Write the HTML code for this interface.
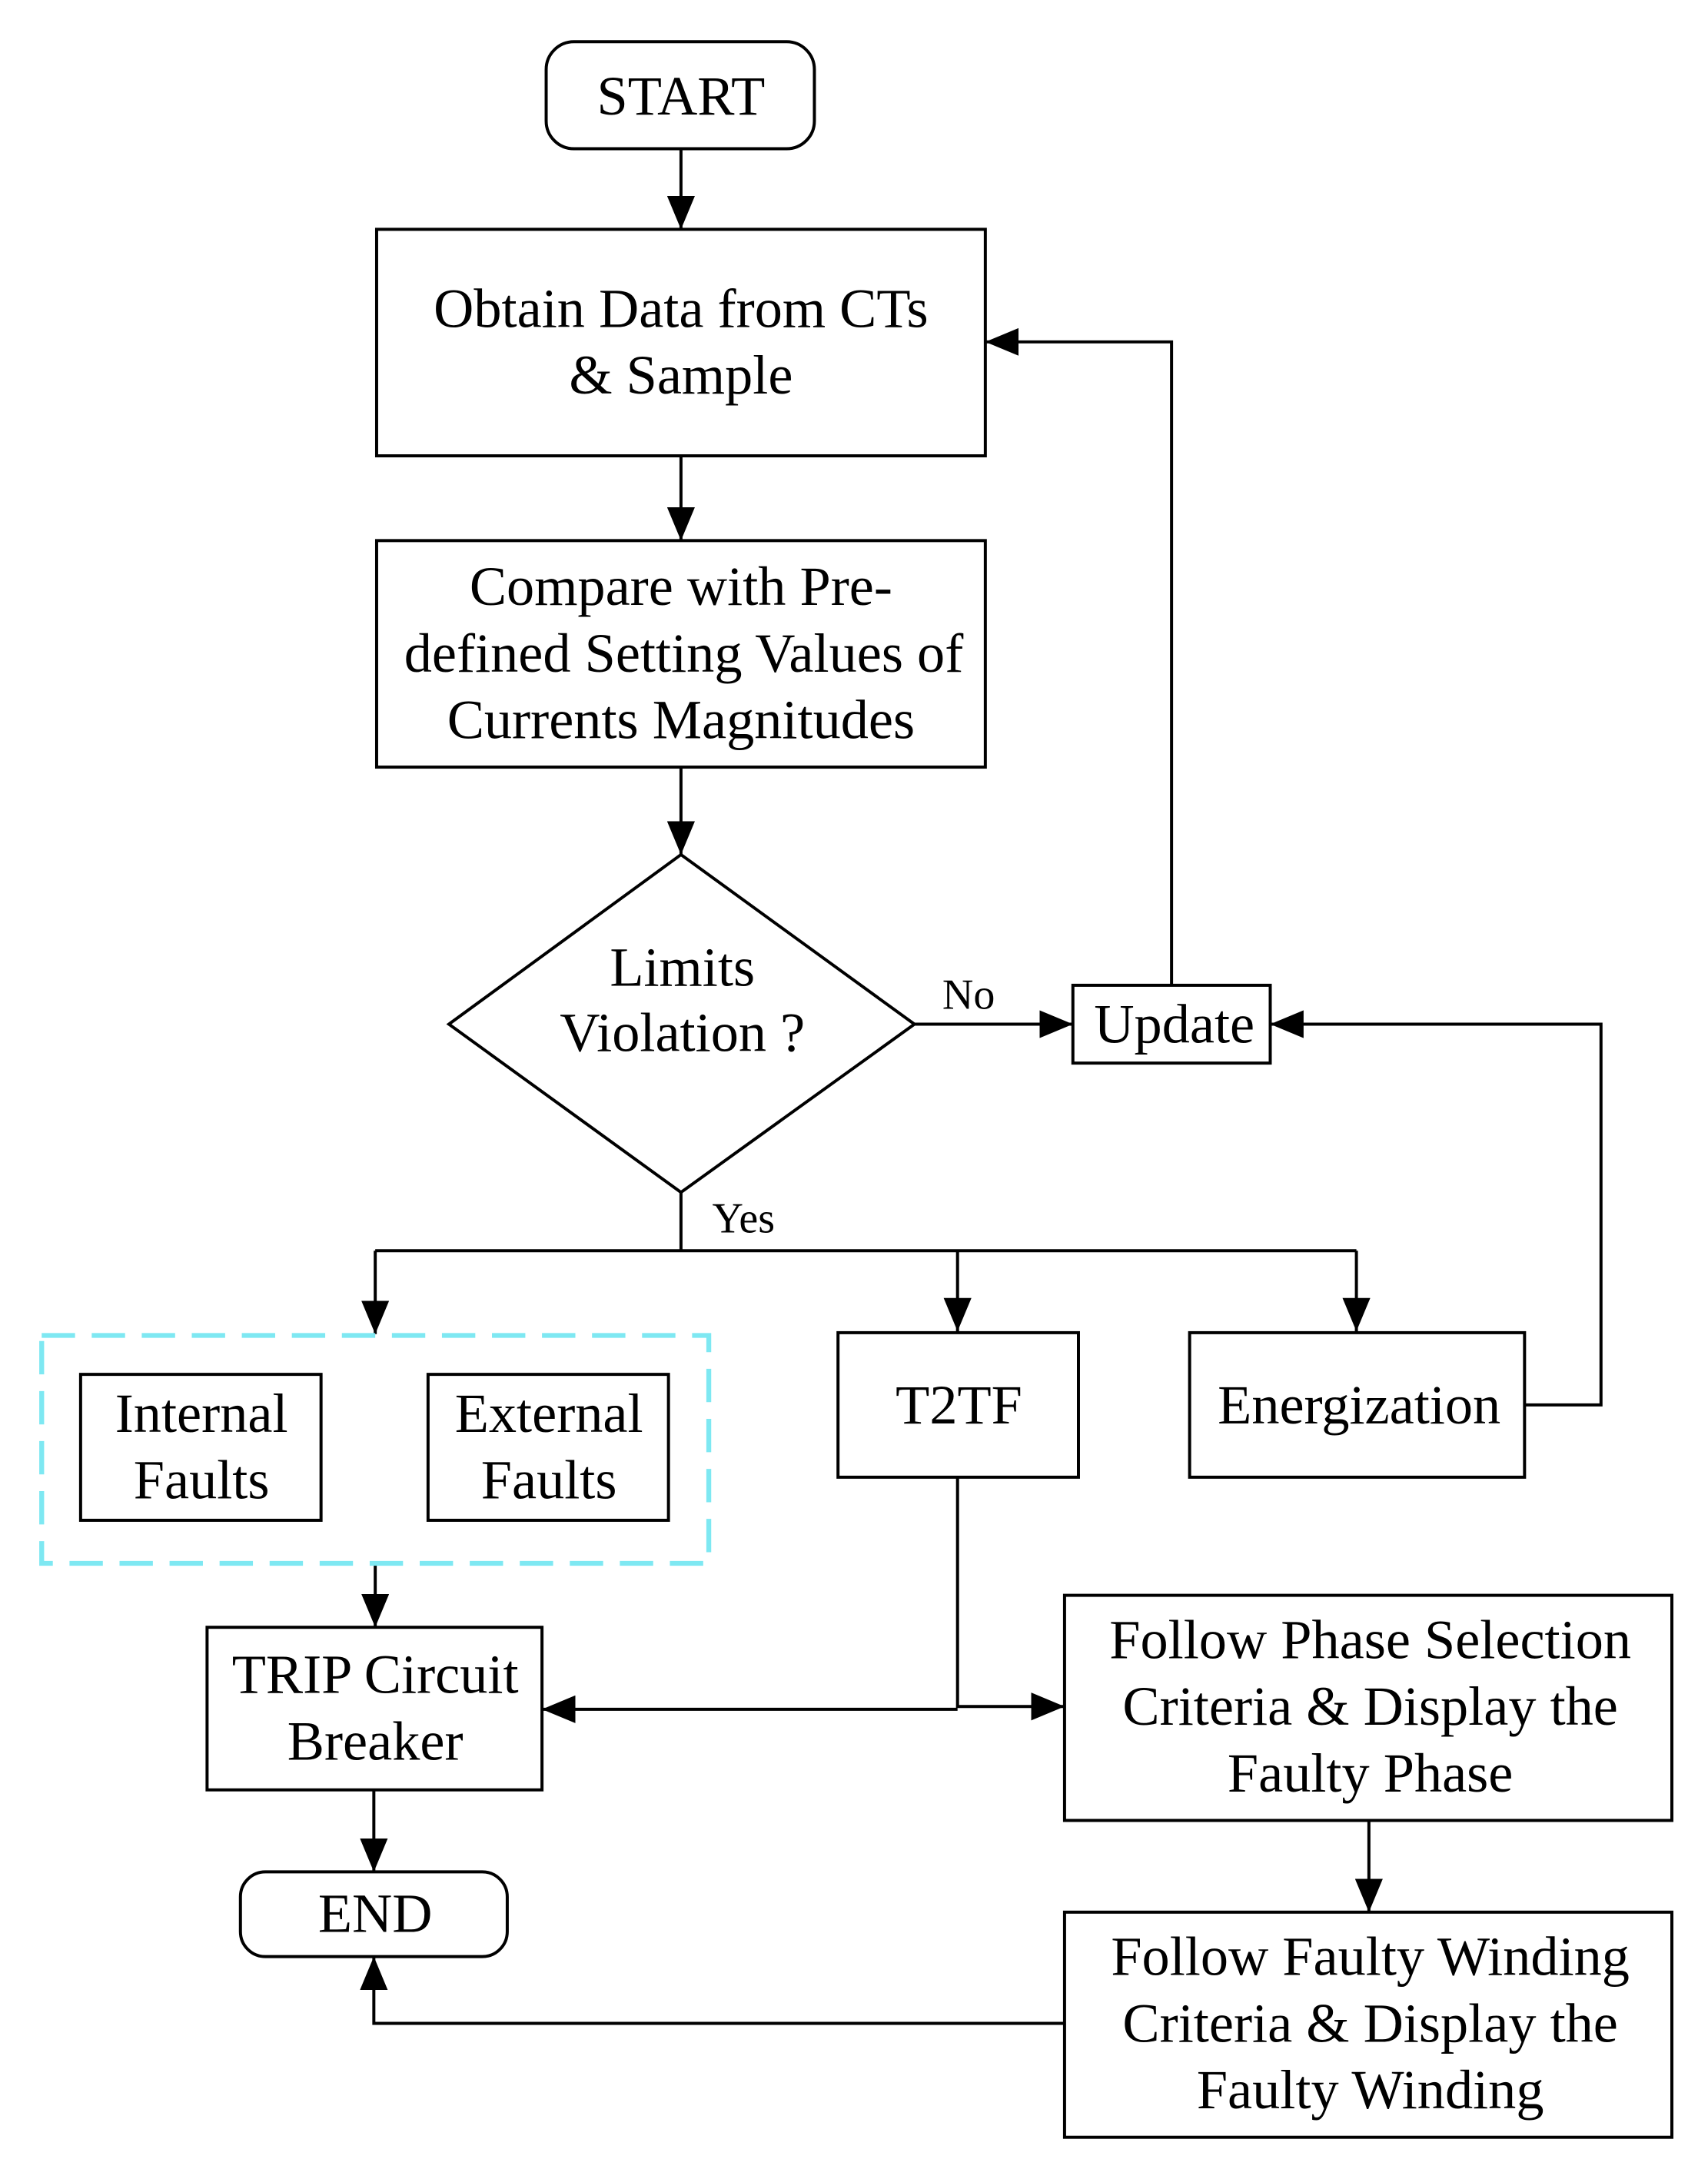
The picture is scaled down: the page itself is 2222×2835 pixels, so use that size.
<!DOCTYPE html>
<html><head><meta charset="utf-8"><style>html,body{margin:0;padding:0;background:#fff}svg{display:block}</style></head>
<body>
<svg width="2222" height="2835" viewBox="0 0 1229 1568" xmlns="http://www.w3.org/2000/svg">
<defs>
<marker id="b" markerWidth="24" markerHeight="20" refX="24" refY="10" orient="auto" markerUnits="userSpaceOnUse"><path d="M0,0 L24,10 L0,20 Z" fill="#000"/></marker></defs>
<g fill="none" stroke="#000" stroke-width="2.2">
<rect x="393" y="30" width="193" height="77" rx="20"/>
<rect x="271" y="165" width="438" height="163"/>
<rect x="271" y="389" width="438" height="163"/>
<path d="M490,615 L658,737 L490,858 L323,737 Z"/>
<rect x="772" y="709" width="142" height="56"/>
<rect x="58" y="989" width="173" height="105"/>
<rect x="308" y="989" width="173" height="105"/>
<rect x="603" y="959" width="173" height="104"/>
<rect x="856" y="959" width="241" height="104"/>
<rect x="149" y="1171" width="241" height="117"/>
<rect x="766" y="1148" width="437" height="162"/>
<rect x="766" y="1376" width="437" height="162"/>
<rect x="173" y="1347" width="192" height="61" rx="18"/>
<path d="M490,107 V165" marker-end="url(#b)"/>
<path d="M490,328 V389" marker-end="url(#b)"/>
<path d="M490,552 V615" marker-end="url(#b)"/>
<path d="M658,737 H772" marker-end="url(#b)"/>
<path d="M843,709 V246 H709" marker-end="url(#b)"/>
<path d="M1097,1011 H1152 V737 H914" marker-end="url(#b)"/>
<path d="M490,858 V900 M270,900 H976"/>
<path d="M270,900 V960" marker-end="url(#b)"/>
<path d="M689,900 V958" marker-end="url(#b)"/>
<path d="M976,900 V958" marker-end="url(#b)"/>
<path d="M270,1125 V1171" marker-end="url(#b)"/>
<path d="M689,1063 V1229"/>
<path d="M689,1230 H390" marker-end="url(#b)"/>
<path d="M689,1228 H766" marker-end="url(#b)"/>
<path d="M985,1310 V1376" marker-end="url(#b)"/>
<path d="M269,1288 V1347" marker-end="url(#b)"/>
<path d="M766,1456 H269 V1408" marker-end="url(#b)"/>
</g>
<rect x="30" y="961" width="480" height="164" fill="none" stroke="#7ee8f2" stroke-width="3.5" stroke-dasharray="24,12"/>
<g font-family="Liberation Serif, serif" font-size="40" text-anchor="middle" dominant-baseline="central" fill="#000">
<text x="490" y="69">START</text>
<text x="490" y="222">Obtain Data from CTs</text>
<text x="490" y="270">&amp; Sample</text>
<text x="490" y="422">Compare with Pre-</text>
<text x="492" y="470">defined Setting Values of</text>
<text x="490" y="518">Currents Magnitudes</text>
<text x="491" y="696">Limits</text>
<text x="491" y="743">Violation ?</text>
<text x="845" y="737">Update</text>
<text x="145" y="1017">Internal</text>
<text x="145" y="1065">Faults</text>
<text x="395" y="1017">External</text>
<text x="395" y="1065">Faults</text>
<text x="690" y="1011">T2TF</text>
<text x="978" y="1011">Energization</text>
<text x="270" y="1205">TRIP Circuit</text>
<text x="270" y="1253">Breaker</text>
<text x="986" y="1180">Follow Phase Selection</text>
<text x="986" y="1228">Criteria &amp; Display the</text>
<text x="986" y="1276">Faulty Phase</text>
<text x="986" y="1408">Follow Faulty Winding</text>
<text x="986" y="1456">Criteria &amp; Display the</text>
<text x="986" y="1504">Faulty Winding</text>
<text x="270" y="1377">END</text>
<text x="697" y="716" font-size="31">No</text>
<text x="535" y="877" font-size="31">Yes</text>
</g>
</svg>
</body></html>
